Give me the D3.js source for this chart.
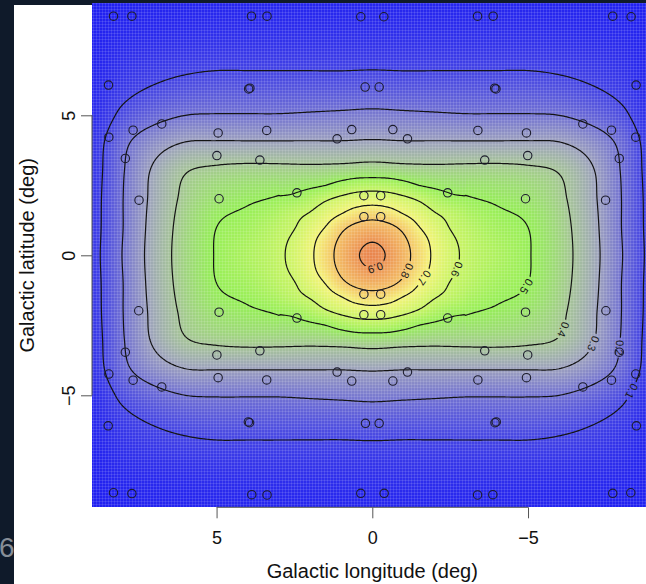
<!DOCTYPE html>
<html>
<head>
<meta charset="utf-8">
<script src="https://cdn.jsdelivr.net/npm/d3@7"></script>
<style>
  html, body { margin: 0; padding: 0; background: #0f1a2a; overflow: hidden; }
  svg { display: block; font-family: "Liberation Sans", Arial, sans-serif; }
</style>
</head>
<body>
<svg id="chart" width="646" height="584"></svg>
<script>
////////////////////////////////////////////////////////////////////////
// Data

// smoothed surface, one quadrant (the map is mirror symmetric in both axes)
// coarse table: rows |latitude| = 0..9 deg, columns |longitude| = 0..9 deg
let coarseStep = 1;
let coarseRows = [
  [0.93, 0.832, 0.682, 0.587, 0.545, 0.505, 0.44, 0.34, 0.205, 0.075],
  [0.838, 0.777, 0.647, 0.572, 0.525, 0.50, 0.435, 0.335, 0.20, 0.072],
  [0.655, 0.622, 0.55, 0.51, 0.49, 0.47, 0.42, 0.325, 0.20, 0.07],
  [0.452, 0.44, 0.43, 0.43, 0.43, 0.42, 0.395, 0.315, 0.195, 0.065],
  [0.315, 0.31, 0.31, 0.31, 0.31, 0.31, 0.305, 0.26, 0.18, 0.06],
  [0.22, 0.215, 0.21, 0.205, 0.205, 0.205, 0.2, 0.17, 0.12, 0.04],
  [0.14, 0.135, 0.135, 0.135, 0.135, 0.135, 0.125, 0.105, 0.075, 0.03],
  [0.08, 0.08, 0.08, 0.08, 0.08, 0.08, 0.075, 0.065, 0.05, 0.02],
  [0.045, 0.045, 0.045, 0.045, 0.045, 0.045, 0.04, 0.035, 0.03, 0.015],
  [0.025, 0.025, 0.025, 0.025, 0.025, 0.025, 0.022, 0.02, 0.015, 0.01]
];

// finer table for the central peak: |latitude|, |longitude| = 0..3 deg by 0.5
let fineStep = 0.5;
let fineRows = [
  [0.93, 0.891, 0.832, 0.760, 0.682, 0.624, 0.587],
  [0.897, 0.869, 0.819, 0.746, 0.674, 0.616, 0.584],
  [0.838, 0.823, 0.777, 0.703, 0.647, 0.597, 0.572],
  [0.760, 0.741, 0.696, 0.652, 0.605, 0.576, 0.55],
  [0.655, 0.646, 0.622, 0.59, 0.55, 0.52, 0.51],
  [0.56, 0.554, 0.53, 0.50, 0.485, 0.475, 0.465],
  [0.452, 0.45, 0.44, 0.435, 0.43, 0.43, 0.43]
];

let contourLevels = [0.1, 0.2, 0.3, 0.4, 0.5, 0.6, 0.7, 0.8, 0.9];

// observed positions (deg)
let pointLon = [
  // top half
  8.31, 7.72, 3.88, 3.38, 0.37, -0.37, -3.38, -3.88, -7.72, -8.31,
  8.47, 3.97, 3.93, 0.23, -0.22, -3.93, -3.97, -8.47,
  8.46, 7.68, 6.76, 4.95, 3.39, 1.13, 0.66, -0.66, -1.13, -3.39, -4.95, -6.76, -7.68, -8.46,
  7.93, 4.99, 3.61, -3.61, -4.99, -7.93,
  7.49, 4.92, 2.42, 0.27, -0.27, -2.42, -4.92, -7.49,
  0.27, -0.27,
  // bottom half
  0.27, -0.27,
  7.50, 4.92, 2.42, 0.27, -0.27, -2.42, -4.92, -7.50,
  7.93, 4.99, 3.61, -3.61, -4.99, -7.93,
  8.46, 7.68, 6.76, 4.95, 3.39, 1.13, 0.66, -0.66, -1.13, -3.39, -4.95, -6.76, -7.68, -8.46,
  8.48, 3.98, 3.94, 0.22, -0.22, -3.94, -3.98, -8.48,
  8.31, 7.72, 3.87, 3.38, 0.37, -0.38, -3.38, -3.87, -7.72, -8.30
];
let pointLat = [
  8.54, 8.54, 8.54, 8.54, 8.52, 8.52, 8.54, 8.54, 8.54, 8.52,
  6.08, 5.94, 5.97, 6.01, 6.01, 5.97, 5.94, 6.08,
  4.22, 4.47, 4.69, 4.37, 4.46, 4.16, 4.49, 4.49, 4.16, 4.46, 4.37, 4.69, 4.47, 4.22,
  3.46, 3.56, 3.40, 3.40, 3.56, 3.46,
  1.97, 2.02, 2.23, 2.13, 2.13, 2.23, 2.02, 1.97,
  1.38, 1.38,
  -1.39, -1.39,
  -1.98, -2.03, -2.24, -2.12, -2.12, -2.24, -2.03, -1.98,
  -3.46, -3.56, -3.41, -3.41, -3.56, -3.46,
  -4.24, -4.46, -4.70, -4.37, -4.45, -4.17, -4.49, -4.49, -4.17, -4.45, -4.37, -4.70, -4.46, -4.24,
  -6.09, -5.95, -5.98, -6.00, -6.00, -5.98, -5.95, -6.09,
  -8.48, -8.51, -8.55, -8.56, -8.50, -8.50, -8.56, -8.55, -8.50, -8.48
];

let xTicks = [5, 0, -5];
let yTicks = [-5, 0, 5];

// colour ramp of the image
let colorStops = [0, 0.1, 0.2, 0.3, 0.4, 0.5, 0.6, 0.7, 0.8, 0.9, 1.0];
let colorValues = ["#1c1cf2", "#4444e4", "#7272d2", "#9ca0be", "#a6c498", "#96ee58",
                   "#caf466", "#f4f47a", "#f4c468", "#ec9254", "#e26a40"];

////////////////////////////////////////////////////////////////////////
// Layout

let width = 646;
let height = 584;

let svg = d3.select("#chart");

// dark slide frame and white figure panel
svg.append("rect").attr("width", width).attr("height", height).attr("fill", "#0f1a2a");
svg.append("rect").attr("x", 14).attr("y", 5)
  .attr("width", width - 14).attr("height", height - 5).attr("fill", "#ffffff");

// page number of the slide
svg.append("text")
  .attr("x", -1).attr("y", 557)
  .attr("font-size", 28)
  .attr("fill", "#868d97")
  .text("6");

let xScale = d3.scaleLinear().domain([9, -9]).range([92, 652.6]);
let yScale = d3.scaleLinear().domain([-9, 9]).range([507.3, 3.3]);

let colorScale = d3.scaleLinear()
  .domain(colorStops)
  .range(colorValues)
  .interpolate(d3.interpolateRgb)
  .clamp(true);

////////////////////////////////////////////////////////////////////////
// Surface lookup (Catmull-Rom through the tables)

function cr(p0, p1, p2, p3, t) {
  let t2 = t * t, t3 = t2 * t;
  return 0.5 * ((2 * p1) + (-p0 + p2) * t + (2 * p0 - 5 * p1 + 4 * p2 - p3) * t2 +
                (-p0 + 3 * p1 - 3 * p2 + p3) * t3);
}

function bicubic(u, v, stepSize, cellAt) {
  let fu = u / stepSize, fv = v / stepSize;
  let i = Math.floor(fu), j = Math.floor(fv);
  let t = fu - i, s = fv - j;
  let rows = [];
  for (let dj = -1; dj <= 2; dj++) {
    let r = j + dj;
    rows.push(cr(cellAt(r, i - 1), cellAt(r, i), cellAt(r, i + 1), cellAt(r, i + 2), t));
  }
  return cr(rows[0], rows[1], rows[2], rows[3], s);
}

function coarseCell(r, c) {
  r = Math.min(Math.abs(r), coarseRows.length - 1);
  c = Math.min(Math.abs(c), coarseRows[0].length - 1);
  return coarseRows[r][c];
}

function coarseSurface(u, v) {
  return bicubic(u, v, coarseStep, coarseCell);
}

function fineCell(r, c) {
  r = Math.abs(r); c = Math.abs(c);
  if (r < fineRows.length && c < fineRows[0].length) return fineRows[r][c];
  return coarseSurface(c * fineStep, r * fineStep);
}

let fineLimit = (fineRows.length - 1) * fineStep;

function surface(lon, lat) {
  let u = Math.abs(lon), v = Math.abs(lat);
  if (u < fineLimit && v < fineLimit) return bicubic(u, v, fineStep, fineCell);
  return coarseSurface(u, v);
}

////////////////////////////////////////////////////////////////////////
// Heat image

let x0 = Math.round(xScale(9)), x1 = Math.round(xScale(-9));
let y0 = Math.round(yScale(9)), y1 = Math.round(yScale(-9));
let cw = x1 - x0, ch = y1 - y0;

let canvas = document.createElement("canvas");
canvas.width = cw;
canvas.height = ch;
let ctx = canvas.getContext("2d");
let img = ctx.createImageData(cw, ch);
for (let py = 0; py < ch; py++) {
  let lat = yScale.invert(y0 + py + 0.5);
  for (let px = 0; px < cw; px++) {
    let lon = xScale.invert(x0 + px + 0.5);
    let c = d3.rgb(colorScale(surface(lon, lat)));
    let k = (py * cw + px) * 4;
    img.data[k] = c.r; img.data[k + 1] = c.g; img.data[k + 2] = c.b; img.data[k + 3] = 255;
  }
}
ctx.putImageData(img, 0, 0);

let plot = svg.append("g");

plot.append("image")
  .attr("x", x0).attr("y", y0)
  .attr("width", cw).attr("height", ch)
  .attr("preserveAspectRatio", "none")
  .attr("href", canvas.toDataURL());

// the fine cell seams of the R image
let defs = svg.append("defs");
let pat = defs.append("pattern")
  .attr("id", "seams")
  .attr("patternUnits", "userSpaceOnUse")
  .attr("width", 3).attr("height", 3);
pat.append("rect").attr("width", 3).attr("height", 0.8).attr("fill", "#ffffff").attr("opacity", 0.14);
pat.append("rect").attr("width", 0.8).attr("height", 3).attr("fill", "#ffffff").attr("opacity", 0.14);

plot.append("rect")
  .attr("x", x0).attr("y", y0)
  .attr("width", cw).attr("height", ch)
  .attr("fill", "url(#seams)");

////////////////////////////////////////////////////////////////////////
// Contours

let step = 0.05;
let n = Math.round(18 / step) + 1;
let grid = new Array(n * n);
for (let j = 0; j < n; j++) {
  for (let i = 0; i < n; i++) {
    grid[j * n + i] = surface(9 - i * step, 9 - j * step);
  }
}

let contours = d3.contours().size([n, n]).thresholds(contourLevels)(grid);

function toPixel(p) {
  return [xScale(9 - (p[0] - 0.5) * step), yScale(9 - (p[1] - 0.5) * step)];
}

let gridProjection = d3.geoTransform({
  point: function(px, py) {
    let q = toPixel([px, py]);
    this.stream.point(q[0], q[1]);
  }
});
let path = d3.geoPath(gridProjection);

// where the labels sit (deg), one per level
let labelSpots = [
  [-8.4, -4.9], [-7.92, -3.28], [-7.22, -3.2], [-6.25, -2.67], [-4.97, -1.13],
  [-2.72, -0.52], [-1.66, -0.77], [-1.08, -0.52], [-0.1, -0.45]
];

let labels = [];
contours.forEach(function(c, li) {
  let target = [xScale(labelSpots[li][0]), yScale(labelSpots[li][1])];
  let best = null;
  c.coordinates.forEach(function(poly) {
    poly.forEach(function(ring) {
      let pts = ring.map(toPixel);
      let area = 0;
      for (let k = 0; k < pts.length - 1; k++) {
        area += pts[k][0] * pts[k + 1][1] - pts[k + 1][0] * pts[k][1];
      }
      pts.forEach(function(p, k) {
        let d = (p[0] - target[0]) ** 2 + (p[1] - target[1]) ** 2;
        if (best === null || d < best.d) best = {d: d, k: k, pts: pts, area: area};
      });
    });
  });
  if (best === null) return;
  let m = best.pts.length - 1;
  let a = best.pts[(best.k - 3 + m) % m];
  let b = best.pts[(best.k + 3) % m];
  let dir = best.area > 0 ? 1 : -1;
  let ang = Math.atan2((b[1] - a[1]) * dir, (b[0] - a[0]) * dir) * 180 / Math.PI;
  labels.push({x: best.pts[best.k][0], y: best.pts[best.k][1], angle: ang,
               text: d3.format(".1f")(c.value)});
});

let mask = defs.append("mask").attr("id", "gaps")
  .attr("maskUnits", "userSpaceOnUse")
  .attr("x", 0).attr("y", 0).attr("width", width).attr("height", height);
mask.append("rect").attr("width", width).attr("height", height).attr("fill", "white");
mask.selectAll("rect.gap")
  .data(labels)
  .enter()
  .append("rect")
  .attr("class", "gap")
  .attr("x", -10).attr("y", -5)
  .attr("width", 20).attr("height", 10)
  .attr("fill", "black")
  .attr("transform", d => `translate(${d.x},${d.y}) rotate(${d.angle})`);

plot.append("g")
  .attr("mask", "url(#gaps)")
  .selectAll("path")
  .data(contours)
  .enter()
  .append("path")
  .attr("d", path)
  .attr("fill", "none")
  .attr("stroke", "#141414")
  .attr("stroke-width", 1.2);

plot.append("g")
  .selectAll("text")
  .data(labels)
  .enter()
  .append("text")
  .attr("transform", d => `translate(${d.x},${d.y}) rotate(${d.angle})`)
  .attr("text-anchor", "middle")
  .attr("dy", "0.35em")
  .attr("font-size", 11)
  .attr("fill", "#1a1a1a")
  .text(d => d.text);

////////////////////////////////////////////////////////////////////////
// Points

plot.append("g")
  .selectAll("circle")
  .data(pointLon.map((d, i) => [d, pointLat[i]]))
  .enter()
  .append("circle")
  .attr("cx", d => xScale(d[0]))
  .attr("cy", d => yScale(d[1]))
  .attr("r", 4.2)
  .attr("fill", "none")
  .attr("stroke", "#1c1c2c")
  .attr("stroke-width", 1.1);

////////////////////////////////////////////////////////////////////////
// Axes (R style: axis line spans only the ticks)

let xAxis = d3.axisBottom(xScale).tickValues(xTicks).tickSize(11).tickPadding(13);
let gx = svg.append("g")
  .attr("transform", `translate(0, ${yScale(-9)})`)
  .call(xAxis);
gx.select(".domain").remove();
gx.append("line")
  .attr("x1", xScale(xTicks[0])).attr("x2", xScale(xTicks[xTicks.length - 1]))
  .attr("stroke", "#555");
gx.selectAll(".tick line").attr("stroke", "#555");
gx.selectAll(".tick text")
  .attr("font-size", 18)
  .attr("font-family", "Liberation Sans, Arial, sans-serif")
  .attr("fill", "#111");

let yAxis = d3.axisLeft(yScale).tickValues(yTicks).tickSize(11);
let gy = svg.append("g")
  .attr("transform", `translate(${xScale(9)}, 0)`)
  .call(yAxis);
gy.select(".domain").remove();
gy.append("line")
  .attr("y1", yScale(yTicks[0])).attr("y2", yScale(yTicks[yTicks.length - 1]))
  .attr("stroke", "#555");
gy.selectAll(".tick line").attr("stroke", "#555");
gy.selectAll(".tick text")
  .attr("x", null).attr("dy", null)
  .attr("transform", "translate(-17,0) rotate(-90)")
  .attr("text-anchor", "middle")
  .attr("font-size", 18)
  .attr("font-family", "Liberation Sans, Arial, sans-serif")
  .attr("fill", "#111");

svg.append("text")
  .attr("x", xScale(0)).attr("y", 578)
  .attr("text-anchor", "middle")
  .attr("font-size", 20)
  .attr("fill", "#111")
  .text("Galactic longitude (deg)");

svg.append("text")
  .attr("transform", `translate(34, ${yScale(0)}) rotate(-90)`)
  .attr("text-anchor", "middle")
  .attr("font-size", 20)
  .attr("fill", "#111")
  .text("Galactic latitude (deg)");
</script>
</body>
</html>
